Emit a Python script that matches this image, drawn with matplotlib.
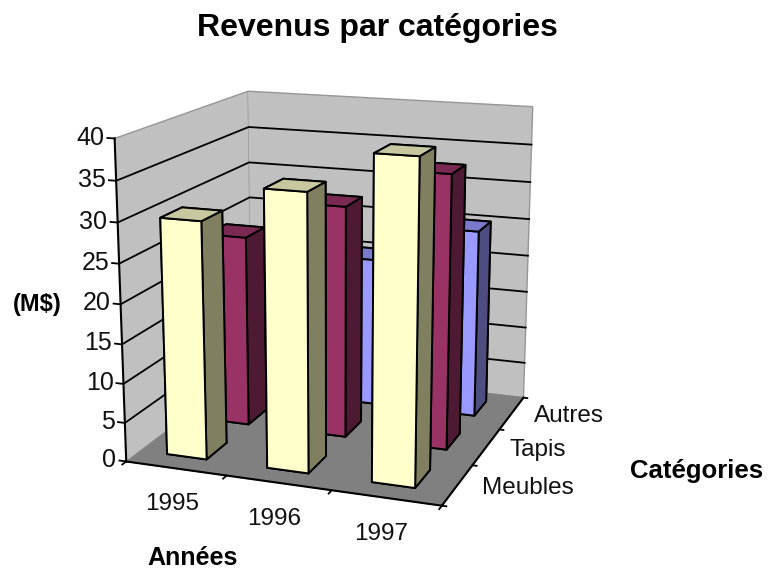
import numpy as np
import matplotlib
matplotlib.use('Agg')
import matplotlib.pyplot as plt
from mpl_toolkits.mplot3d import proj3d

plt.rcParams['font.family'] = ['Liberation Sans', 'DejaVu Sans']

# chart data
YEARS = ['1995', '1996', '1997']
CATEGORIES = ['Meubles', 'Tapis', 'Autres']
MEUBLES = [30, 34.5, 39.5]
TAPIS = [25, 30, 35]
AUTRES = [15, 20, 25]
Z_TICKS = [0, 5, 10, 15, 20, 25, 30, 35, 40]

# face colours: bottom, top, front, back, left, right
YELLOW = ['#808060', '#C8C8A0', '#FFFFCC', '#FFFFCC', '#808060', '#808060']
MAROON = ['#4D1933', '#7A2952', '#993366', '#993366', '#4D1933', '#4D1933']
BLUE = ['#4D4D80', '#7A7ACC', '#9999FF', '#9999FF', '#4D4D80', '#4D4D80']

BAR_W = 0.40
BAR_D = 0.46

fig = plt.figure(figsize=(7.68, 5.71), dpi=100)
ax = fig.add_axes([0.0, -0.0015, 656 / 768, 1.0], projection='3d', computed_zorder=False)
ax.patch.set_alpha(0)
ax.view_init(elev=15.02, azim=-70.08)
ax.set_proj_type('persp', focal_length=0.522)
ax.set_box_aspect((1.0, 0.988, 0.996), zoom=0.9317)
ax.set_xlim(0, 3)
ax.set_ylim(0, 3)
ax.set_zlim(0, 40)
ax.grid(False)
ax.set_xticks([])
ax.set_yticks([])
ax.set_zticks([])

ax.xaxis.set_pane_color('#C0C0C0')
ax.yaxis.set_pane_color('#C0C0C0')
ax.zaxis.set_pane_color('#808080')
for axis in (ax.xaxis, ax.yaxis):
    axis.pane.set_edgecolor('#969696')
ax.zaxis.pane.set_edgecolor('#808080')
for axis in (ax.xaxis, ax.yaxis, ax.zaxis):
    axis.line.set_color((0, 0, 0, 0))


def label(x, y, z, text, **kw):
    # put a 2D text at a projected 3D position
    px, py, _ = proj3d.proj_transform(x, y, z, ax.get_proj())
    ax.text2D(px, py, text, transform=ax.transData, va='center', color='#111111', **kw)


# gridlines on the two back walls
for z in Z_TICKS[1:-1]:
    ax.plot([0, 0, 3], [0, 3, 3], [z, z, z], color='black', lw=1.3, zorder=1)

# axis lines and tick marks
ax.plot([0, 0], [0, 0], [0, 40], color='black', lw=1.5, zorder=2)
ax.plot([0, 3], [0, 0], [0, 0], color='black', lw=1.5, zorder=2)
ax.plot([3, 3], [0, 3], [0, 0], color='black', lw=1.5, zorder=2)
for z in Z_TICKS:
    ax.plot([0, -0.07], [0, 0], [z, z], color='black', lw=1.3, zorder=2)
    label(-0.1, 0, z, str(z), ha='right', fontsize=18)
for i in range(4):
    ax.plot([i, i], [0, -0.08], [0, 0], color='black', lw=1.3, zorder=2)
    ax.plot([3, 3.04], [i, i], [0, 0], color='black', lw=1.3, zorder=2)
for i, year in enumerate(YEARS):
    label(i * 0.94 + 0.82, -0.75, 0, year, ha='center', fontsize=17.5)
for i, cat in enumerate(CATEGORIES):
    label(3.22, i + 0.5, 0, cat, ha='left', fontsize=17.5)

# back rows first so the front bars cover them
z_base = 10
for row, (values, colors) in enumerate(zip([AUTRES, TAPIS, MEUBLES], [BLUE, MAROON, YELLOW])):
    y_pos = 2 - row
    for i, val in enumerate(values):
        ax.bar3d(i + 0.27, y_pos + 0.3, 0, BAR_W, BAR_D, val, color=colors,
                 edgecolor='black', linewidth=1.4, shade=False, zorder=z_base + row * 3 + i)

fig.text(377 / 768, 1 - 28 / 571, 'Revenus par catégories', ha='center', va='center',
         fontsize=23, fontweight='bold')
fig.text(37 / 768, 1 - 305 / 571, '(M$)', ha='center', va='center', fontsize=17, fontweight='bold')
fig.text(193 / 768, 1 - 558 / 571, 'Années', ha='center', va='center', fontsize=18, fontweight='bold')
fig.text(697 / 768, 1 - 471 / 571, 'Catégories', ha='center', va='center', fontsize=18.5, fontweight='bold')

fig.savefig('out.png', dpi=100)
